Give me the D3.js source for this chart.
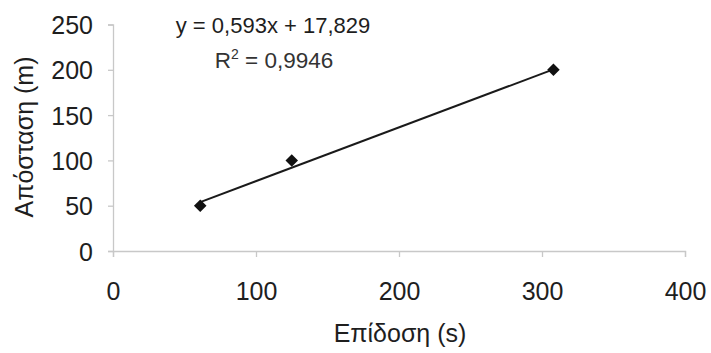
<!DOCTYPE html>
<html><head><meta charset="utf-8">
<script src="https://cdn.jsdelivr.net/npm/d3@7"></script>
<style>body{margin:0;background:#fff}svg{display:block}text{font-family:"Liberation Sans",Arial,sans-serif}</style>
</head><body>
<script>
const xValues = [61, 125, 308];
const yValues = [50, 100, 200];
const xTicks = [0, 100, 200, 300, 400];
const yTicks = [0, 50, 100, 150, 200, 250];
const slope = 0.593, intercept = 17.829;
const eqText = "y = 0,593x + 17,829";
const r2Value = "0,9946";
const xTitle = "Επίδοση (s)";
const yTitle = "Απόσταση (m)";

const W = 711, H = 353;
const m = {left:113, right:26, top:24.5, bottom:102};
const svg = d3.select("body").append("svg").attr("width", W).attr("height", H);
const x = d3.scaleLinear().domain([0,400]).range([m.left, W-m.right]);
const y = d3.scaleLinear().domain([0,250]).range([H-m.bottom, m.top]);

const xa = svg.append("g").attr("transform", `translate(0,${y(0)})`)
  .call(d3.axisBottom(x).tickValues(xTicks).tickSize(6).tickPadding(25).tickFormat(d3.format("d")));
const ya = svg.append("g").attr("transform", `translate(${x(0)},0)`)
  .call(d3.axisLeft(y).tickValues(yTicks).tickSize(5).tickPadding(15).tickFormat(d3.format("d")));
[xa, ya].forEach(a => {
  a.selectAll("path,line").attr("stroke", "#c8c8c8").attr("stroke-width", 1.3);
  a.selectAll("text").attr("fill", "#1e1e1e").style("font-size", "25px").style("font-family", '"Liberation Sans",Arial,sans-serif');
});
ya.selectAll("text").attr("dy", "0.36em");

// trendline
const xmin = d3.min(xValues), xmax = d3.max(xValues);
svg.append("line")
  .attr("x1", x(xmin)).attr("y1", y(slope*xmin+intercept))
  .attr("x2", x(xmax)).attr("y2", y(slope*xmax+intercept))
  .attr("stroke", "#1a1a1a").attr("stroke-width", 2);

// diamonds
svg.selectAll("path.pt").data(xValues.map((v,i)=>[v,yValues[i]])).enter().append("path")
  .attr("class","pt")
  .attr("d", d3.symbol().type(d3.symbolDiamond2).size(100))
  .attr("transform", d => `translate(${x(d[0])},${y(d[1])})`)
  .attr("fill", "#111");

// equation
svg.append("text").attr("x", 273).attr("y", 33).attr("text-anchor","middle")
  .attr("fill","#1e1e1e").style("font-size","22px").text(eqText);
const r2 = svg.append("text").attr("x", 274).attr("y", 68).attr("text-anchor","middle")
  .attr("fill","#333").style("font-size","22.5px");
r2.append("tspan").text("R");
r2.append("tspan").attr("dy", -9).style("font-size","14px").text("2");
r2.append("tspan").attr("dy", 9).text(" = " + r2Value);

// axis titles
svg.append("text").attr("x", 400).attr("y", 342).attr("text-anchor","middle")
  .attr("fill","#1e1e1e").style("font-size","25px").text(xTitle);
svg.append("text").attr("transform","translate(33,137) rotate(-90)").attr("text-anchor","middle")
  .attr("fill","#1e1e1e").style("font-size","25px").text(yTitle);
</script>
</body></html>
